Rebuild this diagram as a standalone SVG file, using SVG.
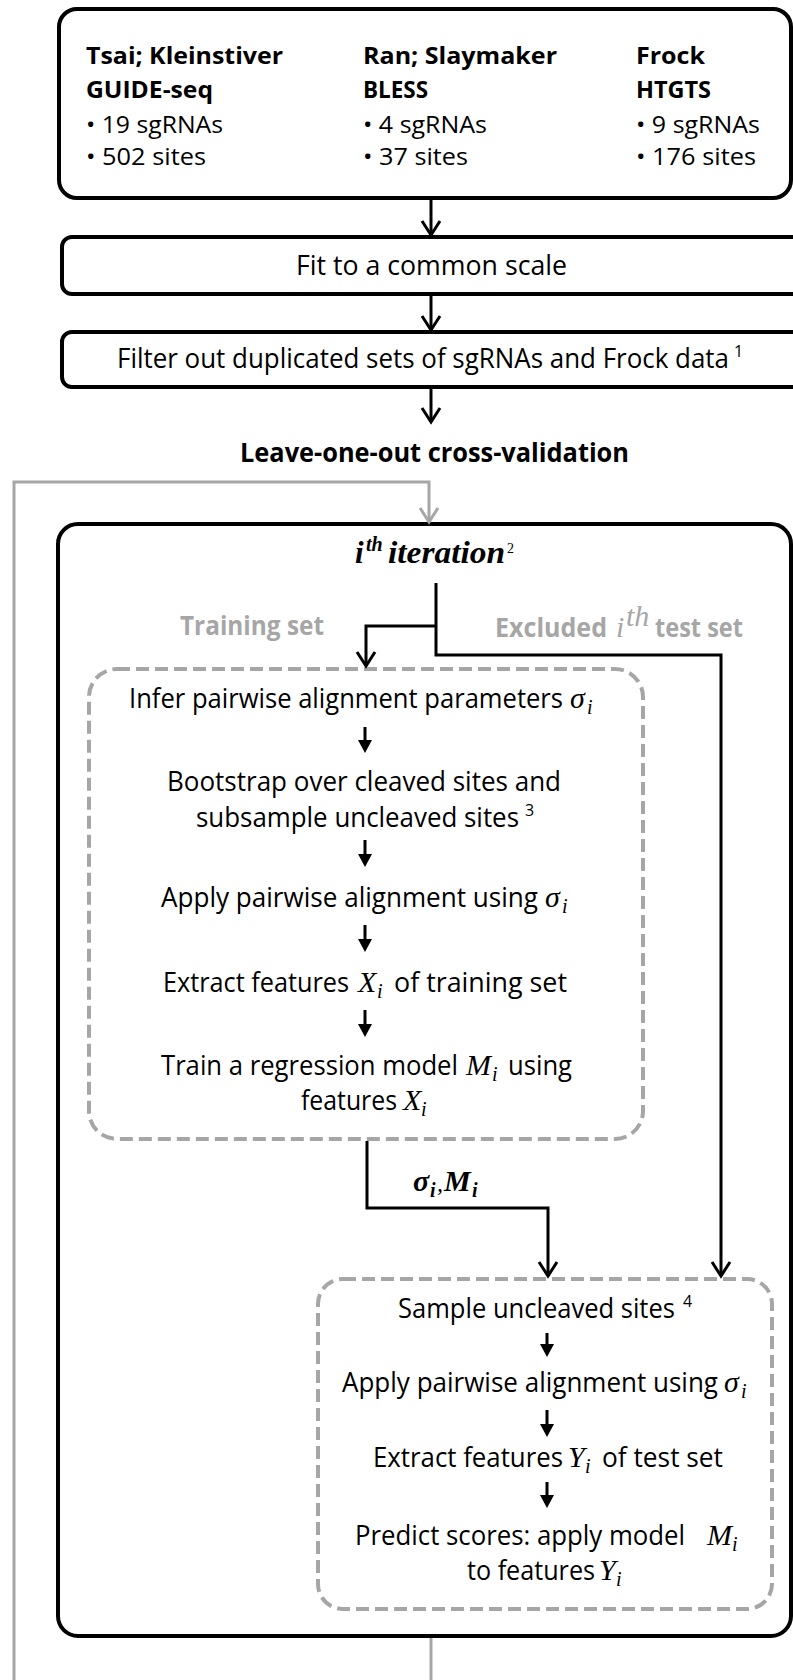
<svg xmlns="http://www.w3.org/2000/svg" width="793" height="1680" viewBox="0 0 793 1680">
<style>
.box{fill:none;stroke:#000;stroke-width:4}
.dash{fill:none;stroke:#a6a6a6;stroke-width:4;stroke-dasharray:13 6}
.ln{fill:none;stroke:#000;stroke-width:3}
.gl{fill:none;stroke:#a6a6a6;stroke-width:3}
.t{font-family:"Open Sans","Noto Sans",sans-serif;font-size:27px;fill:#000}
.tb{font-size:24px}
.b{font-weight:700}
.g{fill:#a6a6a6}
.m{font-family:"Liberation Serif","DejaVu Serif",serif;font-style:italic;font-weight:400;font-size:30px}
.mb{font-family:"Liberation Serif","DejaVu Serif",serif;font-style:italic;font-weight:700;font-size:30px}
.s{font-size:20px}
.sup{font-size:16px}
</style>
<defs>
<marker id="v" viewBox="-17 -12 20 24" refX="0" refY="0" markerWidth="20" markerHeight="24" markerUnits="userSpaceOnUse" orient="auto">
<path d="M-14,-9 L0,0 L-14,9" fill="none" stroke="#000" stroke-width="3"/>
</marker>
<marker id="vg" viewBox="-17 -12 20 24" refX="0" refY="0" markerWidth="20" markerHeight="24" markerUnits="userSpaceOnUse" orient="auto">
<path d="M-14,-9 L0,0 L-14,9" fill="none" stroke="#a6a6a6" stroke-width="3"/>
</marker>
<marker id="f" viewBox="-7 -8 16 16" refX="0" refY="0" markerWidth="16" markerHeight="16" markerUnits="userSpaceOnUse" orient="auto">
<path d="M-5,-7 L8,0 L-5,7 Z" fill="#000"/>
</marker>
</defs>

<g id="sources">
<rect class="box" x="59" y="9" width="732" height="189" rx="18"/>
<text class="t tb b" x="86" y="64" textLength="197" lengthAdjust="spacingAndGlyphs">Tsai; Kleinstiver</text>
<text class="t tb b" x="86" y="98" textLength="127" lengthAdjust="spacingAndGlyphs">GUIDE-seq</text>
<text class="t tb" x="86" y="133" textLength="137" lengthAdjust="spacingAndGlyphs">• 19 sgRNAs</text>
<text class="t tb" x="86" y="165" textLength="120" lengthAdjust="spacingAndGlyphs">• 502 sites</text>
<text class="t tb b" x="363" y="64" textLength="194" lengthAdjust="spacingAndGlyphs">Ran; Slaymaker</text>
<text class="t tb b" x="363" y="98" textLength="65" lengthAdjust="spacingAndGlyphs">BLESS</text>
<text class="t tb" x="363" y="133" textLength="124" lengthAdjust="spacingAndGlyphs">• 4 sgRNAs</text>
<text class="t tb" x="363" y="165" textLength="105" lengthAdjust="spacingAndGlyphs">• 37 sites</text>
<text class="t tb b" x="636" y="64" textLength="69" lengthAdjust="spacingAndGlyphs">Frock</text>
<text class="t tb b" x="636" y="98" textLength="75" lengthAdjust="spacingAndGlyphs">HTGTS</text>
<text class="t tb" x="636" y="133" textLength="124" lengthAdjust="spacingAndGlyphs">• 9 sgRNAs</text>
<text class="t tb" x="636" y="165" textLength="120" lengthAdjust="spacingAndGlyphs">• 176 sites</text>
</g>

<g id="fit">
<rect class="box" x="62" y="237" width="760" height="57" rx="10"/>
<text class="t" x="296" y="275" textLength="271" lengthAdjust="spacingAndGlyphs">Fit to a common scale</text>
</g>

<g id="filter">
<rect class="box" x="62" y="332" width="760" height="55" rx="10"/>
<text class="t"><tspan x="117" y="368" textLength="612" lengthAdjust="spacingAndGlyphs">Filter out duplicated sets of sgRNAs and Frock data</tspan><tspan class="sup" x="734" y="357">1</tspan></text>
</g>

<g id="loocv">
<text class="t b" x="240" y="462" textLength="389" lengthAdjust="spacingAndGlyphs">Leave-one-out cross-validation</text>
</g>

<g id="iteration">
<rect class="box" x="58" y="524" width="733" height="1112" rx="20"/>
<text class="mb"><tspan x="355" y="563" font-size="31">i</tspan><tspan x="366" y="551" font-size="20">th</tspan><tspan x="388" y="563" font-size="31" textLength="117" lengthAdjust="spacingAndGlyphs">iteration</tspan><tspan x="507" y="553" font-size="14" font-weight="400" font-style="normal">2</tspan></text>
</g>

<g id="training-label">
<text class="t b g" x="180" y="635" textLength="144" lengthAdjust="spacingAndGlyphs">Training set</text>
</g>

<g id="test-label">
<text class="t b g"><tspan x="495" y="637" textLength="112" lengthAdjust="spacingAndGlyphs">Excluded</tspan><tspan class="m" x="616" y="637" font-size="32">i</tspan><tspan class="m" x="626" y="626" font-size="21">th</tspan><tspan x="655" y="637" textLength="88" lengthAdjust="spacingAndGlyphs">test set</tspan></text>
</g>

<g id="training">
<rect class="dash" x="89" y="669" width="554" height="470" rx="28"/>
<text class="t"><tspan x="129" y="708" textLength="434" lengthAdjust="spacingAndGlyphs">Infer pairwise alignment parameters</tspan><tspan class="m" x="570" y="708">σ</tspan><tspan class="m s" x="587" y="714">i</tspan></text>
<text class="t" x="167" y="791" textLength="394" lengthAdjust="spacingAndGlyphs">Bootstrap over cleaved sites and</text>
<text class="t"><tspan x="196" y="827" textLength="323" lengthAdjust="spacingAndGlyphs">subsample uncleaved sites</tspan><tspan class="sup" x="525" y="816">3</tspan></text>
<text class="t"><tspan x="161" y="907" textLength="377" lengthAdjust="spacingAndGlyphs">Apply pairwise alignment using</tspan><tspan class="m" x="545" y="907">σ</tspan><tspan class="m s" x="562" y="913">i</tspan></text>
<text class="t"><tspan x="163" y="992" textLength="186" lengthAdjust="spacingAndGlyphs">Extract features</tspan><tspan class="m" x="358" y="992">X</tspan><tspan class="m s" x="377" y="998">i</tspan><tspan x="394" y="992" textLength="173" lengthAdjust="spacingAndGlyphs">of training set</tspan></text>
<text class="t"><tspan x="161" y="1075" textLength="297" lengthAdjust="spacingAndGlyphs">Train a regression model</tspan><tspan class="m" x="466" y="1075">M</tspan><tspan class="m s" x="492" y="1081">i</tspan><tspan x="508" y="1075" textLength="64" lengthAdjust="spacingAndGlyphs">using</tspan></text>
<text class="t"><tspan x="301" y="1110" textLength="96" lengthAdjust="spacingAndGlyphs">features</tspan><tspan class="m" x="403" y="1110">X</tspan><tspan class="m s" x="421" y="1116">i</tspan></text>
</g>

<g id="params-label">
<text class="mb"><tspan x="413" y="1191">σ</tspan><tspan class="s" x="430" y="1197">i</tspan><tspan x="437" y="1191" font-size="24" font-weight="400">,</tspan><tspan x="444" y="1191">M</tspan><tspan class="s" x="472" y="1197">i</tspan></text>
</g>

<g id="testing">
<rect class="dash" x="318" y="1279" width="454" height="330" rx="25"/>
<text class="t"><tspan x="398" y="1318" textLength="277" lengthAdjust="spacingAndGlyphs">Sample uncleaved sites</tspan><tspan class="sup" x="683" y="1307">4</tspan></text>
<text class="t"><tspan x="342" y="1392" textLength="376" lengthAdjust="spacingAndGlyphs">Apply pairwise alignment using</tspan><tspan class="m" x="724" y="1392">σ</tspan><tspan class="m s" x="741" y="1398">i</tspan></text>
<text class="t"><tspan x="373" y="1467" textLength="190" lengthAdjust="spacingAndGlyphs">Extract features</tspan><tspan class="m" x="568" y="1467">Y</tspan><tspan class="m s" x="585" y="1473">i</tspan><tspan x="602" y="1467" textLength="121" lengthAdjust="spacingAndGlyphs">of test set</tspan></text>
<text class="t"><tspan x="355" y="1545" textLength="330" lengthAdjust="spacingAndGlyphs">Predict scores: apply model</tspan><tspan class="m" x="707" y="1545">M</tspan><tspan class="m s" x="732" y="1551">i</tspan></text>
<text class="t"><tspan x="467" y="1580" textLength="128" lengthAdjust="spacingAndGlyphs">to features</tspan><tspan class="m" x="599" y="1580">Y</tspan><tspan class="m s" x="616" y="1586">i</tspan></text>
</g>

<g id="connectors">
<path class="ln" d="M431,198 V235" marker-end="url(#v)"/>
<path class="ln" d="M431,294 V330" marker-end="url(#v)"/>
<path class="ln" d="M431,387 V422" marker-end="url(#v)"/>
<path class="gl" d="M14,1680 V482 H429 V522" marker-end="url(#vg)"/>
<path class="gl" d="M431,1638 V1680"/>
<path class="ln" d="M436,583 V655 H721 V1276" marker-end="url(#v)"/>
<path class="ln" d="M436,626 H366 V666" marker-end="url(#v)"/>
<path class="ln" d="M367,1141 V1208 H548 V1276" marker-end="url(#v)"/>
<path class="ln" d="M365,727 V745" marker-end="url(#f)"/>
<path class="ln" d="M365,840 V859" marker-end="url(#f)"/>
<path class="ln" d="M365,925 V944" marker-end="url(#f)"/>
<path class="ln" d="M365,1010 V1029" marker-end="url(#f)"/>
<path class="ln" d="M547,1333 V1349" marker-end="url(#f)"/>
<path class="ln" d="M547,1410 V1429" marker-end="url(#f)"/>
<path class="ln" d="M547,1482 V1500" marker-end="url(#f)"/>
</g>
</svg>
